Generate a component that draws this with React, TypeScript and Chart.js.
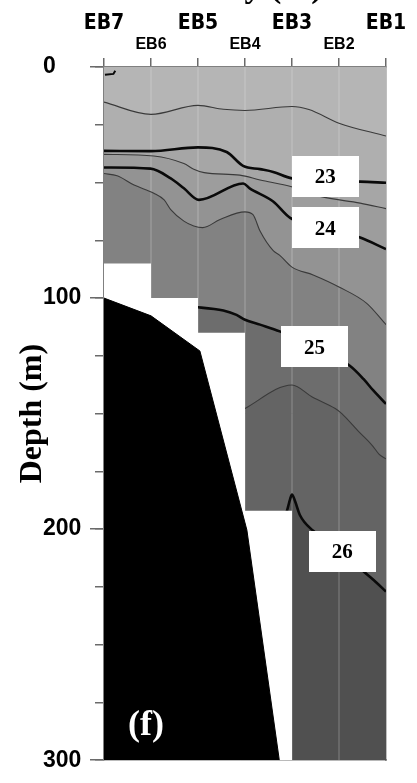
import React, { useEffect, useRef } from 'react';
import { Chart, registerables } from 'chart.js';

Chart.register(...registerables);

// Section stations, west (EB7) to east (EB1), one unit apart on the x axis
const STATIONS = ['EB7', 'EB6', 'EB5', 'EB4', 'EB3', 'EB2', 'EB1'];
const DEPTH_MIN = 0;
const DEPTH_MAX = 300;
const DEPTH_LABEL_STEP = 100;
const DEPTH_MINOR_STEP = 25;

// Isopycnals as [station position, depth (m)]
const ISO_22_5 = [[0, 15.2], [1, 20.5], [2, 16.6], [2.54, 18.3], [3, 18.8], [4, 17.1], [4.36, 18.4], [5, 24.3], [6, 29.9]];
const ISO_23 = [[0, 36.3], [1, 36.4], [2, 34.8], [2.61, 36.8], [2.96, 42.8], [3.32, 44.2], [3.6, 45.4], [4, 48.2], [5.45, 49.6], [6, 50.1]];
const ISO_23_5 = [[0, 37.8], [1.06, 38.5], [1.7, 41.8], [1.91, 44.2], [2.13, 45.7], [2.89, 46.8], [3.32, 48.9], [3.99, 51.8], [4.6, 56], [5.45, 58.9], [6, 61.3]];
const ISO_24 = [[0, 43.5], [0.99, 44], [1.42, 48.2], [1.7, 52.5], [2.02, 57.5], [2.96, 50.4], [3.1, 52.5], [3.6, 58.2], [3.96, 65.3], [5.45, 73.8], [6, 78.8]];
const ISO_24_5 = [[0, 46.1], [0.28, 47.1], [0.64, 51.1], [1.06, 54.6], [1.28, 57.5], [1.42, 61.7], [1.7, 66.7], [1.91, 68.8], [2.1, 69.5], [2.47, 66], [3, 62.7], [3.17, 63.9], [3.32, 71], [3.6, 79.5], [3.74, 81.5], [4, 86.6], [4.45, 90], [5, 95.2], [5.59, 102.3], [6, 111.5]];
const ISO_25 = [[1.8, 103.8], [2, 104], [2.54, 105.4], [2.82, 107.3], [3, 109.4], [3.32, 111.5], [3.74, 114.4], [4.5, 121.5], [5.23, 129.3], [5.52, 135], [5.73, 140], [6, 145.8]];
const ISO_25_5 = [[2.9, 149], [3, 147.8], [4, 137.6], [4.43, 142.8], [4.92, 147.8], [5.06, 150], [5.42, 157.8], [5.7, 163.6], [5.85, 167.5], [6, 169.6]];
const ISO_26 = [[3.85, 194], [3.89, 192.2], [3.96, 187], [4, 185], [4.06, 187.6], [4.17, 194], [4.45, 200.7], [5.1, 210], [5.52, 218.2], [5.8, 223.2], [6, 227]];
const SURFACE_FRAGMENT = [[0.02, 3.4], [0.2, 3.0], [0.24, 1.6]];

const ISOPYCNAL_LEVELS = [22.5, 23, 23.5, 24, 24.5, 25, 25.5, 26];
const ISOPYCNAL_LINES = [ISO_22_5, ISO_23, ISO_23_5, ISO_24, ISO_24_5, ISO_25, ISO_25_5, ISO_26];

// Deepest sampled depth in each interval between neighbouring stations
const SAMPLED_FLOOR = [85, 100, 115, 192, 300, 300];

// Sea floor along the section
const SEABED = [[0, 100], [1, 107.7], [2.04, 122.9], [3.04, 200.4], [3.73, 300]];

// Inline contour labels
const LABEL_LEVELS = [23, 24, 25, 26];
const LABEL_X = [4.71, 4.71, 4.48, 5.07];
const LABEL_DEPTH = [47.2, 69.6, 121, 209.7];

// Grey shades, shallow/light to deep/dark
const BAND_FILLS = ['#b5b5b5', '#afafaf', '#a6a6a6', '#9d9d9d', '#939393', '#828282', '#6d6d6d', '#646464', '#505050'];

const SERIF = '"Liberation Serif", "Times New Roman", serif';
const SANS = '"Liberation Sans", Arial, sans-serif';
const CONDENSED = '"DejaVu Sans Condensed", "Liberation Sans", sans-serif';

const toXY = (pts: number[][]) => pts.map(([x, y]) => ({ x, y }));

const overlayPlugin = {
  id: 'sectionOverlay',
  afterDatasetsDraw(chart: any) {
    const { ctx, chartArea, scales } = chart;
    const xs = scales.x;
    const ys = scales.y;
    ctx.save();
    ctx.textAlign = 'center';
    ctx.textBaseline = 'middle';
    ctx.font = `bold 21px ${SERIF}`;
    LABEL_LEVELS.forEach((lv, i) => {
      const px = xs.getPixelForValue(LABEL_X[i]);
      const py = ys.getPixelForValue(LABEL_DEPTH[i]);
      ctx.fillStyle = '#ffffff';
      ctx.fillRect(Math.round(px - 33.5), Math.round(py - 20.5), 67, 41);
      ctx.fillStyle = '#000000';
      ctx.fillText(String(lv), px, py + 1.5);
    });
    ctx.fillStyle = '#ffffff';
    ctx.textAlign = 'left';
    ctx.textBaseline = 'alphabetic';
    ctx.font = `bold 36px ${SERIF}`;
    ctx.fillText('(f)', chartArea.left + 24, chartArea.bottom - 25);
    ctx.restore();
  },
  afterDraw(chart: any) {
    const { ctx } = chart;
    ctx.save();
    ctx.fillStyle = '#000000';
    ctx.textAlign = 'left';
    ctx.textBaseline = 'alphabetic';
    ctx.font = `bold 34px ${SERIF}`;
    const lead = ctx.measureText('Density ').width;
    ctx.fillText('Density (σt)', 270 - lead, -3);
    ctx.restore();
  },
};

export default function App() {
  const canvasRef = useRef<HTMLCanvasElement>(null);

  useEffect(() => {
    const canvas = canvasRef.current;
    if (!canvas) return;

    const datasets: any[] = [];

    // shallowest shade over the whole section
    datasets.push({
      data: toXY([[0, DEPTH_MIN], [STATIONS.length - 1, DEPTH_MIN]]),
      fill: { value: DEPTH_MAX },
      backgroundColor: BAND_FILLS[0],
      borderColor: 'rgba(0,0,0,0)',
      borderWidth: 0,
      pointRadius: 0,
      order: 100,
    });

    // shade below each isopycnal
    ISOPYCNAL_LINES.forEach((pts, k) => {
      datasets.push({
        data: toXY(pts),
        fill: { value: DEPTH_MAX },
        backgroundColor: BAND_FILLS[k + 1],
        borderColor: 'rgba(0,0,0,0)',
        borderWidth: 0,
        pointRadius: 0,
        cubicInterpolationMode: 'monotone',
        order: 99 - k,
      });
    });

    // station verticals
    for (let i = 1; i < STATIONS.length - 1; i++) {
      datasets.push({
        data: toXY([[i, DEPTH_MIN], [i, DEPTH_MAX]]),
        borderColor: 'rgba(255,255,255,0.1)',
        borderWidth: 1,
        pointRadius: 0,
        fill: false,
        order: 30,
      });
    }

    // isopycnal contour lines
    ISOPYCNAL_LINES.forEach((pts, k) => {
      const major = Number.isInteger(ISOPYCNAL_LEVELS[k]);
      datasets.push({
        data: toXY(pts),
        borderColor: major ? '#0a0a0a' : '#3a3a3a',
        borderWidth: major ? 2.6 : 1.1,
        pointRadius: 0,
        fill: false,
        cubicInterpolationMode: 'monotone',
        order: major ? 11 : 12,
      });
    });
    datasets.push({
      data: toXY(SURFACE_FRAGMENT),
      borderColor: '#0a0a0a',
      borderWidth: 2,
      pointRadius: 0,
      fill: false,
      order: 11,
    });

    // unsampled water below the deepest cast in each interval
    const maskPts: { x: number; y: number }[] = [];
    SAMPLED_FLOOR.forEach((d, i) => {
      maskPts.push({ x: i === 0 ? i : i + 0.0001, y: d });
      maskPts.push({ x: i + 1, y: d });
    });
    datasets.push({
      data: maskPts,
      fill: { value: DEPTH_MAX },
      backgroundColor: '#ffffff',
      borderColor: 'rgba(0,0,0,0)',
      borderWidth: 0,
      pointRadius: 0,
      order: 5,
    });

    // sea floor
    datasets.push({
      data: toXY(SEABED),
      fill: { value: DEPTH_MAX },
      backgroundColor: '#000000',
      borderColor: '#000000',
      borderWidth: 1,
      pointRadius: 0,
      order: 4,
    });

    const axisGrey = '#6a6a6a';
    const borderGrey = '#808080';

    const chart = new Chart(canvas, {
      type: 'line',
      data: { datasets },
      plugins: [overlayPlugin],
      options: {
        responsive: false,
        devicePixelRatio: 1,
        animation: false,
        layout: { padding: 0 },
        plugins: {
          legend: { display: false },
          tooltip: { enabled: false },
        },
        elements: { line: { tension: 0 } },
        scales: {
          x: {
            type: 'linear',
            position: 'top',
            min: 0,
            max: STATIONS.length - 1,
            ticks: {
              stepSize: 1,
              autoSkip: false,
              maxRotation: 0,
              padding: 4,
              color: '#000000',
              callback: (v: any) => {
                const i = Math.round(Number(v));
                return i % 2 === 0 ? [STATIONS[i], ''] : STATIONS[i];
              },
              font: (c: any) =>
                c.index % 2 === 0
                  ? { family: CONDENSED, size: 21, weight: 'bold', lineHeight: 0.97 }
                  : { family: SANS, size: 16, weight: 'bold', lineHeight: 1.2 },
            },
            grid: { drawOnChartArea: false, tickLength: 9, color: axisGrey, lineWidth: 1.5 },
            border: { color: borderGrey, width: 1.5 },
            afterFit: (s: any) => { s.height = 67; },
          },
          xb: {
            type: 'linear',
            position: 'bottom',
            min: 0,
            max: STATIONS.length - 1,
            ticks: { display: false },
            grid: { display: false },
            border: { color: borderGrey, width: 1.5 },
            afterFit: (s: any) => { s.height = 13; },
          },
          y: {
            type: 'linear',
            position: 'left',
            reverse: true,
            min: DEPTH_MIN,
            max: DEPTH_MAX,
            weight: 1,
            ticks: {
              stepSize: DEPTH_LABEL_STEP,
              crossAlign: 'far',
              padding: 9,
              color: '#000000',
              font: { family: SANS, size: 23, weight: 'bold' },
            },
            grid: { drawOnChartArea: false, tickLength: 14, color: axisGrey, lineWidth: 1.5 },
            border: { color: borderGrey, width: 1.5 },
            afterFit: (s: any) => { s.width = 61; },
          },
          yMinor: {
            type: 'linear',
            position: 'left',
            reverse: true,
            min: DEPTH_MIN,
            max: DEPTH_MAX,
            weight: 0,
            ticks: { stepSize: DEPTH_MINOR_STEP, display: false },
            grid: { drawOnChartArea: false, tickLength: 9, color: axisGrey, lineWidth: 1.5 },
            border: { display: false },
            afterFit: (s: any) => { s.width = 0; },
          },
          yTitle: {
            type: 'linear',
            position: 'left',
            reverse: true,
            min: DEPTH_MIN,
            max: DEPTH_MAX,
            weight: 2,
            ticks: { display: false },
            grid: { display: false },
            border: { display: false },
            title: {
              display: true,
              text: 'Depth (m)',
              color: '#000000',
              font: { family: SERIF, size: 32, weight: 'bold', lineHeight: 1.2 },
              padding: { top: 14, bottom: 0 },
            },
            afterFit: (s: any) => { s.width = 43; },
          },
          yr: {
            type: 'linear',
            position: 'right',
            min: DEPTH_MIN,
            max: DEPTH_MAX,
            ticks: { display: false },
            grid: { display: false },
            border: { color: borderGrey, width: 1.5 },
            afterFit: (s: any) => { s.width = 31; },
          },
        },
      } as any,
    });

    return () => chart.destroy();
  }, []);

  return (
    <div style={{ position: 'absolute', left: 0, top: 0, width: 417, height: 783 }}>
      <canvas ref={canvasRef} width={417} height={783} style={{ display: 'block' }} />
    </div>
  );
}
